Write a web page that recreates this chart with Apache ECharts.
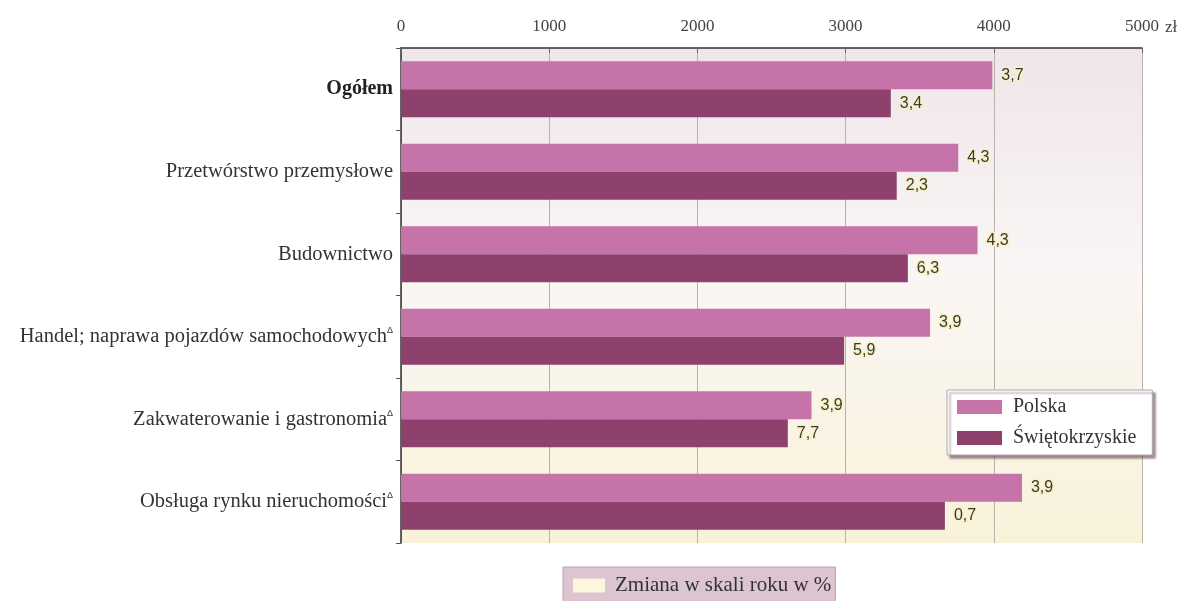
<!DOCTYPE html>
<html><head><meta charset="utf-8">
<script src="https://cdn.jsdelivr.net/npm/echarts@6/dist/echarts.min.js"></script>
<style>html,body{margin:0;padding:0;background:#fff}#c{width:1198px;height:601px}</style>
</head><body><div id="c"></div>
<script>
const categories = ['Ogółem','Przetwórstwo przemysłowe','Budownictwo','Handel; naprawa pojazdów samochodowych','Zakwaterowanie i gastronomia','Obsługa rynku nieruchomości'];
const footnote = [false,false,false,true,true,true];
const polska = [3990,3760,3890,3570,2770,4190];
const swietokrzyskie = [3305,3345,3420,2990,2610,3670];
const polskaChange = ['3,7','4,3','4,3','3,9','3,9','3,9'];
const swietChange = ['3,4','2,3','6,3','5,9','7,7','0,7'];
const xTicks = [0,1000,2000,3000,4000,5000];

const serif = '"Liberation Serif","DejaVu Serif",serif';
const sans = '"Liberation Sans",Arial,sans-serif';

const chart = echarts.init(document.getElementById('c'));
const labelStyle = (arr) => ({
  show: true, position: 'right', distance: 9,
  formatter: p => arr[p.dataIndex],
  fontFamily: sans, fontSize: 16, color: '#3b3a2c',
  textBorderColor: '#f8f0c8', textBorderWidth: 3
});
chart.setOption({
  animation: false,
  grid: {
    left: 401, right: 56, top: 48, bottom: 58, show: true, borderWidth: 0,
    backgroundColor: {type:'linear', x:0, y:0, x2:0, y2:1, colorStops:[
      {offset:0, color:'#efe5ea'},{offset:0.45, color:'#faf6f5'},{offset:1, color:'#f9f2da'}]}
  },
  xAxis: {
    type: 'value', position: 'top', min: 0, max: 5000, interval: 1000,
    name: 'zł', nameGap: 14, nameLocation: 'end',
    nameTextStyle: {fontFamily: serif, fontSize: 17, color: '#444', verticalAlign:'bottom', padding:[0,0,12,0]},
    axisLine: {show: true, lineStyle: {color: '#333', width: 1.5}},
    axisTick: {show: true, inside: true, length: 5, lineStyle:{color:'#666'}},
    axisLabel: {fontFamily: serif, fontSize: 17, color: '#444', margin: 13,
      formatter: v => xTicks.includes(v) ? String(v) : ''},
    splitLine: {show: true, lineStyle: {color: '#b9b2aa', width: 1}}
  },
  yAxis: {
    type: 'category', data: categories, inverse: true,
    axisLine: {show: true, lineStyle: {color: '#333', width: 1.5}},
    axisTick: {show: true, length: 5, lineStyle:{color:'#555'}},
    axisLabel: {
      margin: 8, fontFamily: serif, fontSize: 20.5, color: '#333',
      formatter: (v, i) => {
        if (i === 0) return '{b|' + v + '}';
        return footnote[i] ? v + '{s|Δ}' : v;
      },
      rich: {
        b: {fontFamily: serif, fontSize: 20, fontWeight: 'bold', color: '#222'},
        s: {fontFamily: sans, fontSize: 9, color: '#333', verticalAlign: 'top', padding:[0,0,12,0]}
      }
    }
  },
  legend: [{
    data: [{name:'Polska', icon:'rect'},{name:'Świętokrzyskie', icon:'rect'}],
    orient: 'vertical', left: 947, top: 390,
    itemWidth: 45, itemHeight: 14, itemGap: 11,
    backgroundColor: '#fff', borderColor: '#aaa', borderWidth: 1,
    padding: [7, 16, 7, 10],
    shadowColor: 'rgba(100,60,80,0.6)', shadowOffsetX: 3, shadowOffsetY: 3, shadowBlur: 2,
    textStyle: {fontFamily: serif, fontSize: 20, color: '#333', padding: [0,0,0,6]}
  },{
    data: [{name:'Zmiana w skali roku w %', icon:'rect'}], left: 563, top: 567,
    itemWidth: 32, itemHeight: 14,
    backgroundColor: '#dcc4d0', borderColor: '#b9a3b0', borderWidth: 1,
    padding: [8, 4, 8, 10],
    textStyle: {fontFamily: serif, fontSize: 21, color: '#333', padding: [0,0,0,5]}
  }],
  series: [{
    name: 'Polska', type: 'bar', data: polska, barGap: '0%', barCategoryGap: '32%',
    itemStyle: {color: '#c573a8'}, label: labelStyle(polskaChange)
  },{
    name: 'Świętokrzyskie', type: 'bar', data: swietokrzyskie, barGap: '0%', barCategoryGap: '32%',
    itemStyle: {color: '#8f416d'}, label: labelStyle(swietChange)
  },{
    name: 'Zmiana w skali roku w %', type: 'line', data: [],
    itemStyle: {color: '#fbf6dc'}
  }]
});
</script></body></html>
